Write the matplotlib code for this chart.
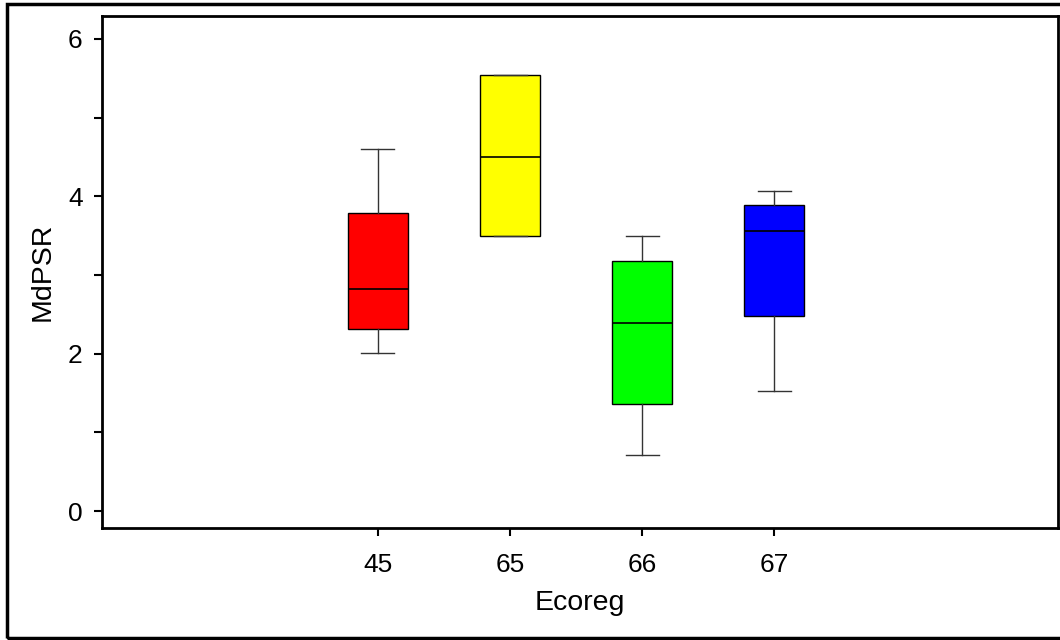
import matplotlib
matplotlib.use("Agg")
import matplotlib.pyplot as plt
from matplotlib.patches import Rectangle

plt.rcParams['font.family'] = ['Liberation Sans', 'DejaVu Sans']

categories = ["45", "65", "66", "67"]
whisker_low = [2.01, 3.50, 0.71, 1.53]
q1 = [2.31, 3.50, 1.36, 2.48]
median = [2.82, 4.50, 2.39, 3.56]
q3 = [3.79, 5.54, 3.18, 3.89]
whisker_high = [4.60, 5.54, 3.50, 4.07]
colors = ["#ff0000", "#ffff00", "#00ff00", "#0000ff"]

W, H = 1060, 640
fig = plt.figure(figsize=(W / 100, H / 100), dpi=100)
ax = fig.add_axes([102 / W, 1 - 528 / H, (1058 - 102) / W, (528 - 16) / H])

stats = []
for i, c in enumerate(categories):
    stats.append(dict(label=c, whislo=whisker_low[i], q1=q1[i], med=median[i],
                      q3=q3[i], whishi=whisker_high[i], fliers=[]))

positions = list(range(1, len(categories) + 1))
bp = ax.bxp(stats, positions=positions, widths=0.455, patch_artist=True,
            showfliers=False,
            boxprops=dict(linewidth=1.0, edgecolor='black'),
            medianprops=dict(color='black', linewidth=1.2),
            whiskerprops=dict(color='#333333', linewidth=1.0),
            capprops=dict(color='#333333', linewidth=1.0),
            capwidths=0.25)
for patch, col in zip(bp['boxes'], colors):
    patch.set_facecolor(col)

ax.set_xlim(-1.09, 6.15)
ax.set_ylim(-0.216, 6.29)
ax.set_yticks([0, 1, 2, 3, 4, 5, 6])
ax.set_yticklabels(["0", "", "2", "", "4", "", "6"])
ax.set_xticks(positions)
ax.set_xticklabels(categories)
ax.tick_params(axis='both', labelsize=19, length=6, width=1.5, color='black')
ax.tick_params(axis='x', pad=12)
ax.tick_params(axis='y', pad=8)

for s in ax.spines.values():
    s.set_linewidth(2.0)
    s.set_color('black')

ax.set_xlabel("Ecoreg", fontsize=20.5)
ax.set_ylabel("MdPSR", fontsize=20.5)
ax.xaxis.set_label_coords(0.5, (528 - 590) / 512)
ax.yaxis.set_label_coords((56 - 102) / 956, 0.5)

frame = Rectangle((7 / W, 2 / H), 1.1, (636 - 2) / H, transform=fig.transFigure,
                  fill=False, edgecolor='black', linewidth=2.5, clip_on=False)
fig.patches.append(frame)

fig.savefig("out.png", dpi=100)
